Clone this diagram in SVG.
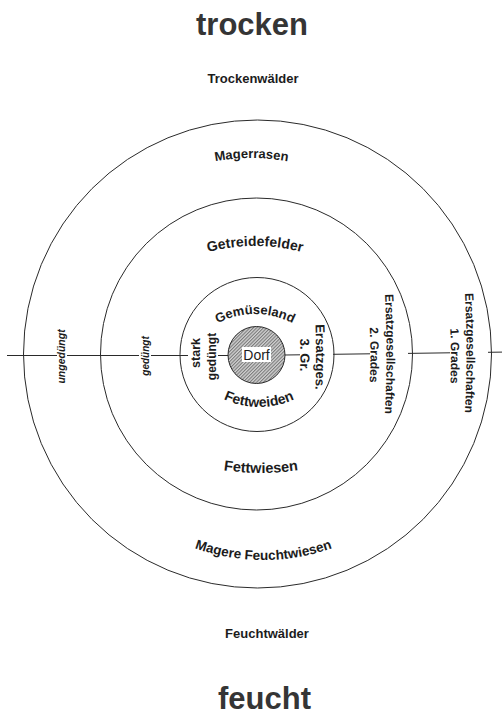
<svg xmlns="http://www.w3.org/2000/svg" width="502" height="715" viewBox="0 0 502 715">
<style>
.ring{fill:none;stroke:#2a2a2a;stroke-width:1}
.lbl{font-family:"Liberation Sans",Arial,sans-serif;font-weight:bold;fill:#1c1c1c}
.it{font-style:italic}
.title{font-family:"Liberation Sans",Arial,sans-serif;font-weight:bold;fill:#353535}
.conn{fill:none;stroke:#2a2a2a;stroke-width:1}
</style>
<defs>
<pattern id="hatch" patternUnits="userSpaceOnUse" width="2.4" height="2.4" patternTransform="rotate(45)">
<rect width="2.4" height="2.4" fill="#d2d2d2"/>
<line x1="0.6" y1="0" x2="0.6" y2="2.4" stroke="#5a5a5a" stroke-width="0.8"/>
</pattern>
<path id="pMager" d="M125.5 203.9 A196 196 0 0 1 377.5 203.9"/>
<path id="pGetr" d="M162.5 270.8 A185 185 0 0 1 347.5 270.8"/>
<path id="pGem" d="M185.7 354 A80 80 0 0 1 324.3 354"/>
<path id="pFettwei" d="M185.4 364.5 A85 85 0 0 0 332.6 364.5"/>
<path id="pFettwie" d="M175.5 457.9 A250 250 0 0 0 346.5 457.9"/>
<path id="pMagF" d="M145.3 522.7 A206 206 0 0 0 381.7 522.7"/>
<path id="pE1a" d="M463.1 263 A1200 1200 0 0 1 463.1 443"/>
<path id="pE1b" d="M444.2 266 A600 600 0 0 1 444.2 446"/>
<path id="pE2a" d="M383.1 264 A1200 1200 0 0 1 383.1 444"/>
<path id="pE2b" d="M362.3 265 A500 500 0 0 1 362.3 445"/>
<path id="pE3a" d="M314.2 297 A1000 1000 0 0 1 314.2 417"/>
<path id="pE3b" d="M294.4 295 A300 300 0 0 1 294.4 415"/>
</defs>

<g id="titles">
<text class="title" x="252" y="35" font-size="31" text-anchor="middle">trocken</text>
<text class="title" x="264.5" y="708.5" font-size="31" text-anchor="middle">feucht</text>
</g>

<g id="trockenwaelder">
<text class="lbl" x="253" y="83" font-size="13" text-anchor="middle">Trockenwälder</text>
</g>
<g id="feuchtwaelder">
<text class="lbl" x="267" y="638" font-size="13" text-anchor="middle">Feuchtwälder</text>
</g>

<g id="connectors">
<path class="conn" d="M7 355.5 H57 M67 355.5 H139 M151 355.5 H188 M218 355.5 H228 M285 355 L300 354.8 M333 354.3 L370 353.8 M408 353.4 L450 352.8 M488 352.3 L502 352.1"/>
</g>

<g id="ring-outer">
<circle class="ring" cx="257.5" cy="354" r="234"/>
<text class="lbl" font-size="13"><textPath href="#pMager" startOffset="50%" text-anchor="middle">Magerrasen</textPath></text>
<text class="lbl" font-size="13.5"><textPath href="#pMagF" startOffset="50%" text-anchor="middle">Magere Feuchtwiesen</textPath></text>
<text class="lbl it" font-size="10.5" text-anchor="middle" transform="translate(65 356.5) rotate(-90)">ungedüngt</text>
<text class="lbl" font-size="12"><textPath href="#pE1a" startOffset="50%" text-anchor="middle">Ersatzgesellschaften</textPath><textPath href="#pE1b" startOffset="50%" text-anchor="middle">1. Grades</textPath></text>
</g>

<g id="ring-middle">
<circle class="ring" cx="256.5" cy="354" r="156"/>
<text class="lbl" font-size="14"><textPath href="#pGetr" startOffset="50%" text-anchor="middle">Getreidefelder</textPath></text>
<text class="lbl" font-size="14.5"><textPath href="#pFettwie" startOffset="50%" text-anchor="middle">Fettwiesen</textPath></text>
<text class="lbl it" font-size="10" text-anchor="middle" transform="translate(148.5 356) rotate(-90)">gedüngt</text>
<text class="lbl" font-size="12"><textPath href="#pE2a" startOffset="50%" text-anchor="middle">Ersatzgesellschaften</textPath><textPath href="#pE2b" startOffset="50%" text-anchor="middle">2. Grades</textPath></text>
</g>

<g id="ring-inner">
<circle class="ring" cx="257" cy="354.5" r="77"/>
<text class="lbl" font-size="13"><textPath href="#pGem" startOffset="50%" text-anchor="middle">Gemüseland</textPath></text>
<text class="lbl" font-size="14"><textPath href="#pFettwei" startOffset="50%" text-anchor="middle">Fettweiden</textPath></text>
<text class="lbl" font-size="12.5" text-anchor="middle" transform="translate(199.5 353) rotate(-90)">stark</text>
<text class="lbl" font-size="12" text-anchor="middle" transform="translate(216 356.5) rotate(-90)">gedüngt</text>
<text class="lbl" font-size="13"><textPath href="#pE3a" startOffset="50%" text-anchor="middle">Ersatzges.</textPath><textPath href="#pE3b" startOffset="50%" text-anchor="middle">3. Gr.</textPath></text>
</g>

<g id="dorf">
<circle cx="256.5" cy="355" r="28.5" fill="url(#hatch)" stroke="#2a2a2a" stroke-width="1"/>
<rect x="242" y="347" width="29" height="15" fill="#ffffff"/>
<text x="256.5" y="360" font-family="Liberation Sans, Arial, sans-serif" font-size="14" text-anchor="middle" fill="#1c1c1c">Dorf</text>
</g>
</svg>
